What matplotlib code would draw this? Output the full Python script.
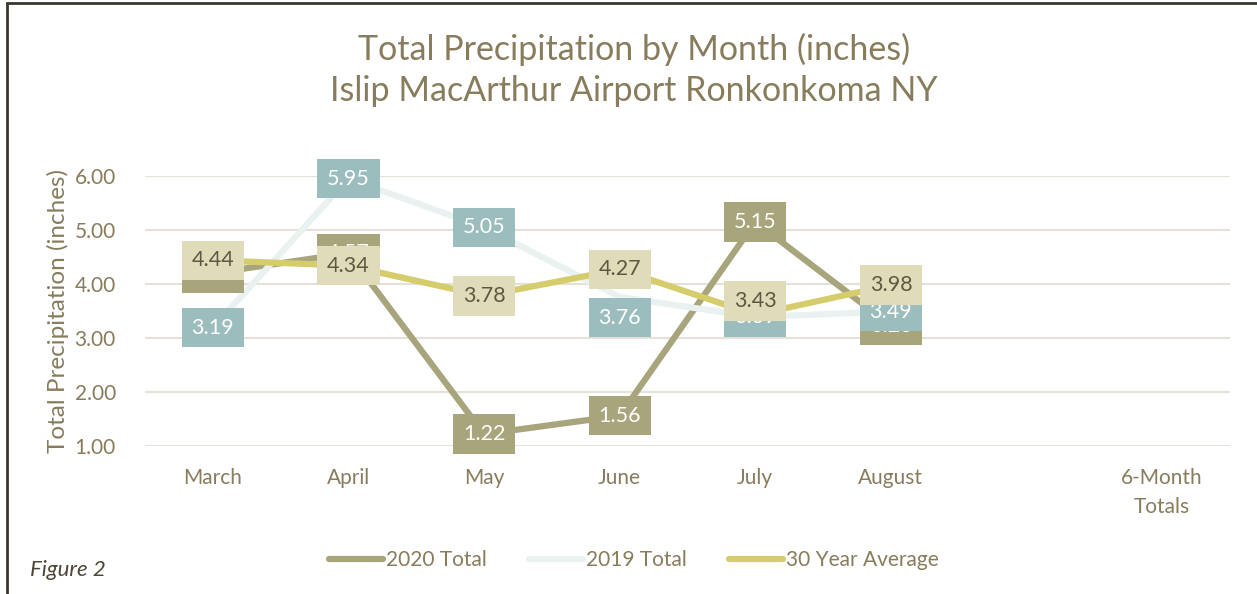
import numpy as np
import matplotlib
matplotlib.use("Agg")
import matplotlib.pyplot as plt
from matplotlib.patches import Rectangle
from matplotlib.lines import Line2D

plt.rcParams['font.family'] = ['Lato', 'DejaVu Sans']

categories = ["March", "April", "May", "June", "July", "August", "", "6-Month\nTotals"]
total_2020 = [4.20, 4.57, 1.22, 1.56, 5.15, 3.23, np.nan, np.nan]
total_2019 = [3.19, 5.95, 5.05, 3.76, 3.39, 3.49, np.nan, np.nan]
avg_30yr = [4.44, 4.34, 3.78, 4.27, 3.43, 3.98, np.nan, np.nan]
yticks = [1.0, 2.0, 3.0, 4.0, 5.0, 6.0]

title = "Total Precipitation by Month (inches)\nIslip MacArthur Airport Ronkonkoma NY"

TEXT = "#877C5C"
C2020 = "#A8A47C"
C2019_LINE = "#E9F1F1"
C2019_BOX = "#9BBDBD"
CAVG = "#D5CC6C"
CAVG_BOX = "#E0DCB9"
GRID = "#E6E1D8"

fig = plt.figure(figsize=(12.57, 5.94), dpi=100)
ax = fig.add_axes([145/1257, 1-446/594, 1085/1257, 270/594])

x = np.arange(len(categories))
ax.plot(x, total_2020, color=C2020, lw=4.5, solid_capstyle='round', zorder=3)
ax.plot(x, total_2019, color=C2019_LINE, lw=4.5, solid_capstyle='round', zorder=4)
ax.plot(x, avg_30yr, color=CAVG, lw=4.5, solid_capstyle='round', zorder=5)

def labels(vals, box, tc, z, offsets=None):
    for i, v in enumerate(vals):
        if np.isnan(v):
            continue
        dy = 0
        if offsets and i in offsets:
            dy = offsets[i]
        ax.annotate(f"{v:.2f}", (x[i], v), xytext=(0, dy), textcoords='offset points',
                    ha='center', va='center', fontsize=15.5, color=tc, zorder=z,
                    annotation_clip=False,
                    bbox=dict(boxstyle='square,pad=0.45', fc=box, ec='none'))

labels(total_2020, C2020, "white", 10)
labels(total_2019, C2019_BOX, "white", 11, offsets={3: -15})
labels(avg_30yr, CAVG_BOX, "#5E5843", 12, offsets={4: 10})

ax.set_xlim(-0.5, len(categories) - 0.5)
ax.set_ylim(1, 6)
ax.set_yticks(yticks)
ax.set_yticklabels([f"{t:.2f}" for t in yticks])
ax.set_xticks(x)
ax.set_xticklabels(categories, linespacing=1.55)
ax.tick_params(length=0, labelsize=15, labelcolor=TEXT)
ax.tick_params(axis='y', pad=21)
ax.tick_params(axis='x', pad=16)
ax.grid(axis='y', color=GRID, lw=1.5, zorder=0)
ax.set_axisbelow(True)
for s in ax.spines.values():
    s.set_visible(False)
ax.set_ylabel("Total Precipitation (inches)", fontsize=17.5, color=TEXT, labelpad=4)

fig.text(634/1257, 1-70/594, title, ha='center', va='center', fontsize=24.5,
         color=TEXT, linespacing=1.35)

handles = [Line2D([], [], color=C2020, lw=4.5, solid_capstyle='round'),
           Line2D([], [], color=C2019_LINE, lw=4.5, solid_capstyle='round'),
           Line2D([], [], color=CAVG, lw=4.5, solid_capstyle='round')]
fig.legend(handles, ["2020 Total", "2019 Total", "30 Year Average"],
           loc='center', bbox_to_anchor=(634/1257, 1-560/594), ncol=3,
           frameon=False, fontsize=15, labelcolor=TEXT, handlelength=2.6,
           handletextpad=0.15, columnspacing=2.0)

fig.text(30/1257, 1-570/594, "Figure 2", fontsize=16, style='italic',
         color="#4C4636", ha='left', va='center')

fig.add_artist(Rectangle((7/1257, -0.02), 1.1, 1-3/594 + 0.02, transform=fig.transFigure,
                         fill=False, ec="#3A372E", lw=2))

fig.savefig("out.png", dpi=100, facecolor='white')
